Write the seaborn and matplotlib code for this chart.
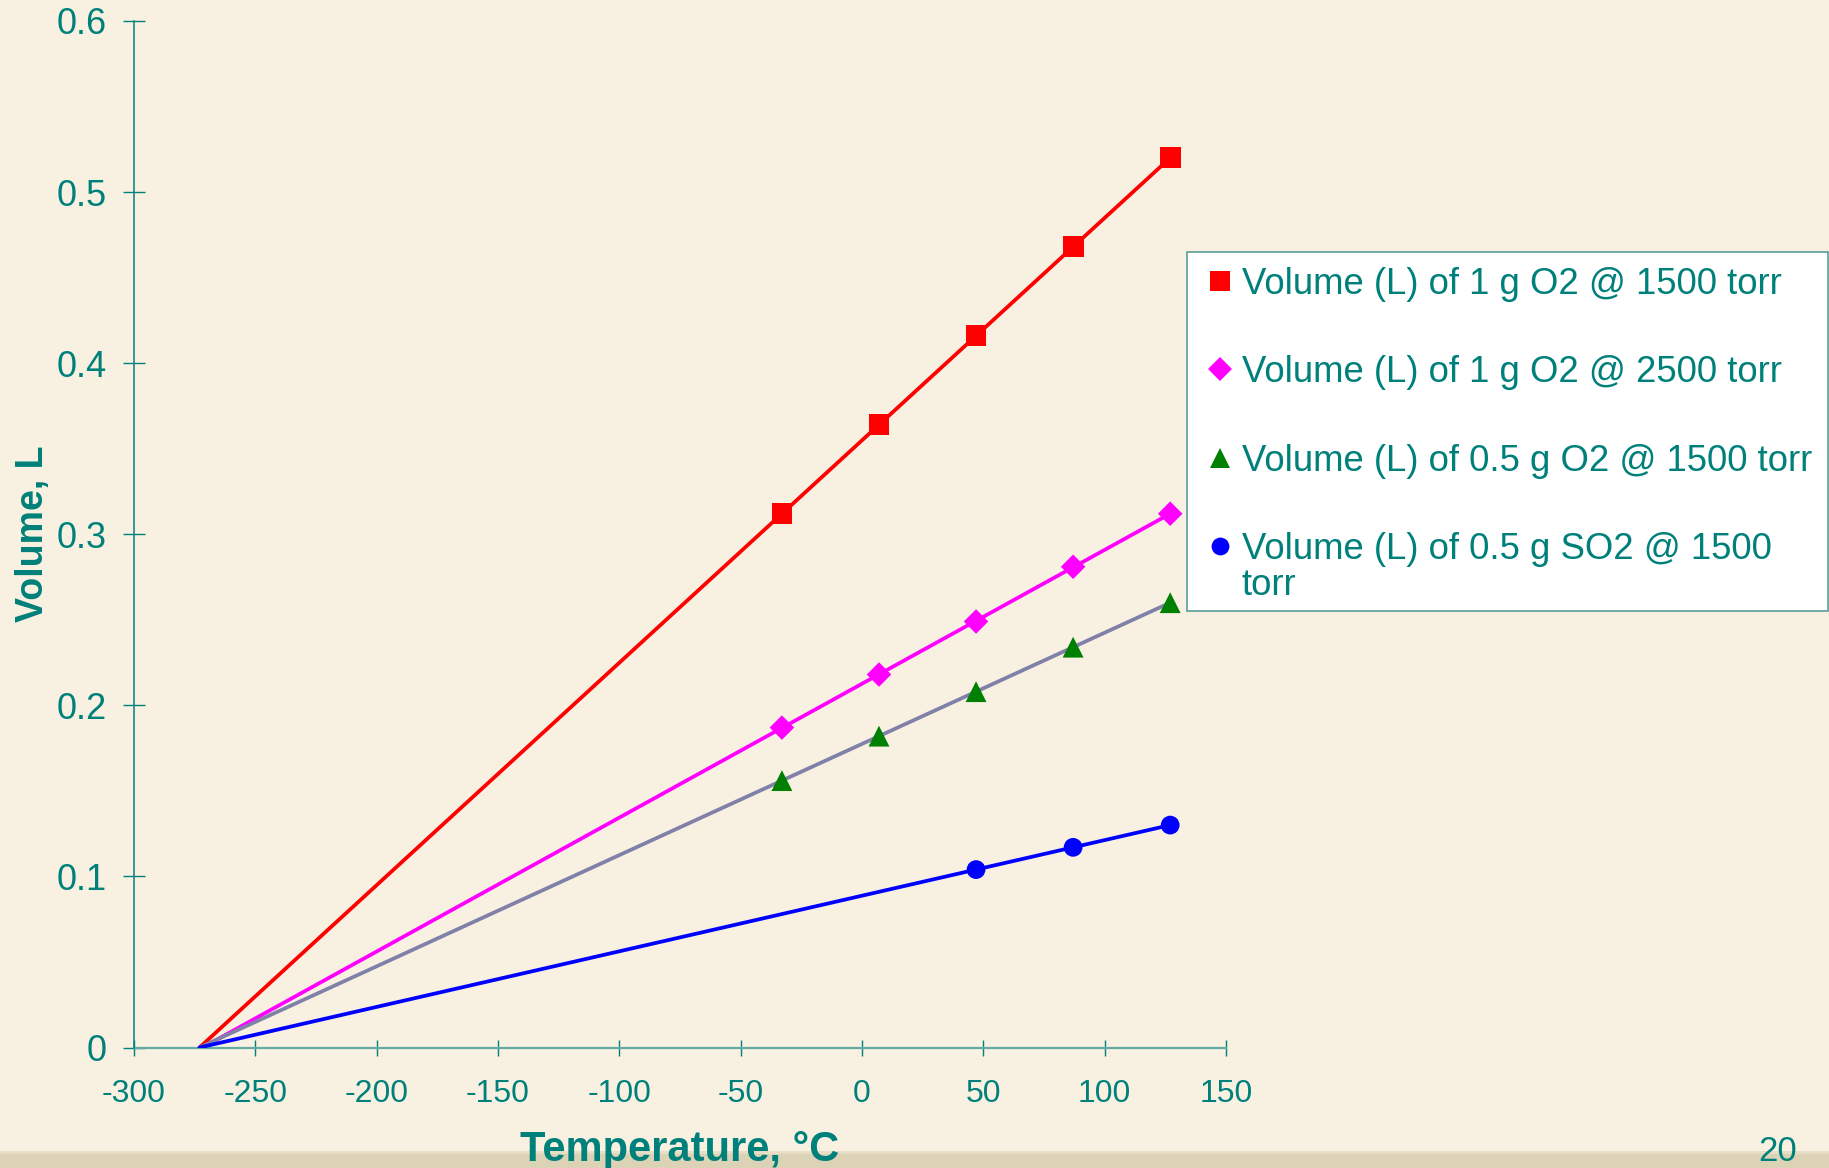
import numpy as np
import pandas as pd
import matplotlib
matplotlib.use("Agg")
import matplotlib.pyplot as plt
from matplotlib.lines import Line2D
from matplotlib.patches import Rectangle
import seaborn as sns

# ---- data: gas volume vs temperature (Charles's law) ----
temps_c = [-33, 7, 47, 87, 127]
vol_1g_o2_1500 = [0.312, 0.364, 0.416, 0.468, 0.520]
vol_1g_o2_2500 = [0.187, 0.218, 0.249, 0.281, 0.312]
vol_05g_o2_1500 = [0.156, 0.182, 0.208, 0.234, 0.260]
temps_so2_c = [47, 87, 127]
vol_05g_so2_1500 = [0.104, 0.117, 0.130]

series_labels = [
    "Volume (L) of 1 g O2 @ 1500 torr",
    "Volume (L) of 1 g O2 @ 2500 torr",
    "Volume (L) of 0.5 g O2 @ 1500 torr",
    "Volume (L) of 0.5 g SO2 @ 1500\ntorr",
]
x_ticks = [-300, -250, -200, -150, -100, -50, 0, 50, 100, 150]
y_ticks = [0, 0.1, 0.2, 0.3, 0.4, 0.5, 0.6]
y_tick_labels = ["0", "0.1", "0.2", "0.3", "0.4", "0.5", "0.6"]

# ---- styling ----
TEAL = "#00807A"
AXIS_LIGHT = "#62ABA3"
BG = "#F8F1E2"
line_colors = ["#FF0000", "#FF00FF", "#8080A8", "#0000FF"]
marker_colors = ["#FF0000", "#FF00FF", "#008000", "#0000FF"]
markers = ["s", "D", "^", "o"]
marker_sizes = [15.0, 12.5, 15.0, 13.5]  # points

sns.set_theme(style="ticks")
plt.rcParams["font.family"] = ["Liberation Sans", "DejaVu Sans"]
plt.rcParams["axes.unicode_minus"] = False

frames = []
for lab, xs, ys in zip(series_labels,
                       [temps_c, temps_c, temps_c, temps_so2_c],
                       [vol_1g_o2_1500, vol_1g_o2_2500, vol_05g_o2_1500, vol_05g_so2_1500]):
    frames.append(pd.DataFrame({"temp": xs, "vol": ys, "series": lab}))
df = pd.concat(frames, ignore_index=True)

W, H = 1829, 1168
fig = plt.figure(figsize=(W / 100, H / 100), dpi=100, facecolor=BG)
ax = fig.add_axes([134 / W, 1 - 1047.5 / H, (1226 - 134) / W, (1047.5 - 21) / H])
ax.set_facecolor("none")

# bottom decorative band of the slide
fig.add_artist(Rectangle((0, 0), 1, 17 / H, transform=fig.transFigure,
                         facecolor="#DCD2B5", edgecolor="none", zorder=0))
fig.add_artist(Rectangle((0, 14 / H), 1, 3 / H, transform=fig.transFigure,
                         facecolor="#E6DEC5", edgecolor="none", zorder=0))

# linear trend lines, extended back to zero volume
for i, lab in enumerate(series_labels):
    sub = df[df["series"] == lab]
    slope, intercept = np.polyfit(sub["temp"], sub["vol"], 1)
    x0 = -intercept / slope
    fx = np.array([x0, sub["temp"].max()])
    sns.lineplot(x=fx, y=slope * fx + intercept, ax=ax, color=line_colors[i],
                 linewidth=2.7, zorder=2, legend=False)

# data markers
for i, lab in enumerate(series_labels):
    sub = df[df["series"] == lab]
    sns.scatterplot(data=sub, x="temp", y="vol", ax=ax, marker=markers[i],
                    s=marker_sizes[i] ** 2, color=marker_colors[i],
                    edgecolor="none", linewidth=0, zorder=3, legend=False)

ax.set_xlim(-300, 150)
ax.set_ylim(0, 0.6)
ax.set_xticks(x_ticks)
ax.set_xticklabels([str(t) for t in x_ticks])
ax.set_yticks(y_ticks)
ax.set_yticklabels(y_tick_labels)

for side in ["top", "right"]:
    ax.spines[side].set_visible(False)
ax.spines["left"].set_color(TEAL)
ax.spines["left"].set_linewidth(1.1)
ax.spines["bottom"].set_color(AXIS_LIGHT)
ax.spines["bottom"].set_linewidth(1.6)
ax.spines["bottom"].set_zorder(1)

ax.tick_params(axis="y", direction="inout", length=15.8, width=1.0, color=TEAL,
               labelsize=26, labelcolor=TEAL, pad=11.5)
ax.tick_params(axis="x", direction="inout", length=11.5, width=1.0, color=TEAL,
               labelsize=23, labelcolor=TEAL, pad=17)

ax.set_xlabel("Temperature, °C", fontsize=30, fontweight="bold", color=TEAL)
ax.set_ylabel("Volume, L", fontsize=27, fontweight="bold", color=TEAL)
ax.xaxis.set_label_coords(0.5, (1047.5 - 1130) / 1026.5)
ax.yaxis.set_label_coords((51 - 134) / 1092, 0.5)

# legend box
fig.add_artist(Rectangle((1187 / W, 1 - 611 / H), (1828 - 1187) / W, (611 - 252) / H,
                         transform=fig.transFigure, facecolor="white",
                         edgecolor="#5A9E98", linewidth=1.2, zorder=5))
row_centers = [281, 369, 458, 546]
for i, lab in enumerate(series_labels):
    yc = 1 - row_centers[i] / H
    fig.add_artist(Line2D([1220 / W], [yc], transform=fig.transFigure,
                          marker=markers[i], markersize=marker_sizes[i] * 0.95,
                          color=marker_colors[i], markeredgewidth=0, linestyle="none",
                          zorder=6))
    fig.text(1242 / W, 1 - (row_centers[i] - 14) / H, lab, fontsize=26.3, color=TEAL,
             ha="left", va="top", linespacing=1.05, zorder=6)

# slide number
fig.text(1758 / W, 0.0, "20", fontsize=25, color=TEAL, ha="left", va="bottom",
         zorder=6)

fig.savefig("out.png", dpi=100, facecolor=BG)
